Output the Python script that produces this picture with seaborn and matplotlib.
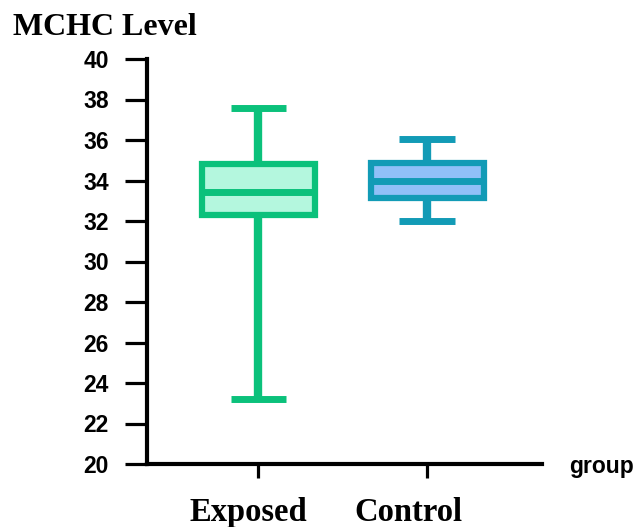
import matplotlib
matplotlib.use("Agg")
import matplotlib.pyplot as plt
import seaborn as sns
import pandas as pd

# Data (five-number summaries)
groups = ["Exposed", "Control"]
exposed_vals = [23.2, 32.3, 33.45, 34.8, 37.6]
control_vals = [32.0, 33.15, 34.0, 34.85, 36.05]
face_colors = ["#B4F7DE", "#90C0F8"]
edge_colors = ["#0BC17B", "#129BB6"]
y_ticks = [20, 22, 24, 26, 28, 30, 32, 34, 36, 38, 40]

df = pd.DataFrame({
    "group": [groups[0]] * len(exposed_vals) + [groups[1]] * len(control_vals),
    "value": exposed_vals + control_vals,
})

sns.set_theme(style="white")
plt.rcParams["font.family"] = ["Liberation Sans", "DejaVu Sans"]
plt.rcParams["text.color"] = "black"
plt.rcParams["xtick.color"] = "black"
plt.rcParams["ytick.color"] = "black"

fig = plt.figure(figsize=(6.41, 5.27), dpi=100)
ax = fig.add_axes([147 / 641, 1 - 464 / 527, (542 - 147) / 641, (464 - 59) / 527])

sns.boxplot(data=df, x="group", y="value", hue="group", order=groups,
            hue_order=groups, palette=face_colors, whis=(0, 100), saturation=1,
            width=0.67, linewidth=4.5, legend=False, ax=ax, showfliers=False)

for i, cont in enumerate(ax.containers):
    ec = edge_colors[i]
    for b in cont.boxes:
        b.set_edgecolor(ec)
        b.set_facecolor(face_colors[i])
        b.set_linewidth(4.5)
    for ln in list(cont.medians) + list(cont.whiskers) + list(cont.caps):
        ln.set_color(ec)
        ln.set_linewidth(5)
        ln.set_solid_capstyle("butt")
    for cap in cont.caps:
        xd = cap.get_xdata()
        c = (xd[0] + xd[1]) / 2
        cap.set_xdata([c - 0.165, c + 0.165])
    for w in cont.whiskers:
        w.set_linewidth(6)

ax.set_ylim(20, 40)
ax.set_xlim(-0.66, 1.68)
ax.set_yticks(y_ticks)
ax.set_yticklabels([str(t) for t in y_ticks], fontsize=16.5, fontweight="bold",
                   color="black")

# major ticks (marks) at the categories; labels on unmarked minor ticks,
# set slightly left as in the reference
px_per_unit = 169.0
ax.set_xticks([0, 1])
ax.set_xticklabels(["", ""])
ax.set_xticks([0 - 10 / px_per_unit, 1 - 19 / px_per_unit], minor=True)
ax.set_xticklabels(groups, minor=True, fontsize=23.5, fontweight="bold",
                   color="black", family=["Liberation Serif", "DejaVu Serif"])
ax.set_xlabel("")
ax.set_ylabel("")

for s in ["top", "right"]:
    ax.spines[s].set_visible(False)
for s in ["left", "bottom"]:
    ax.spines[s].set_linewidth(3)
    ax.spines[s].set_color("black")
ax.tick_params(axis="y", length=15.5, width=2.3, color="black", pad=12, left=True)
ax.tick_params(axis="x", which="major", length=10, width=2.3, color="black",
               bottom=True)
ax.tick_params(axis="x", which="minor", length=10, width=0, pad=14, bottom=True)

fig.text(13 / 641, 1 - 35 / 527, "MCHC Level", fontsize=23, fontweight="bold",
         family=["Liberation Serif", "DejaVu Serif"], ha="left", va="baseline",
         color="black")
fig.text(569 / 641, 1 - 466 / 527, "group", fontsize=16.5, fontweight="bold",
         ha="left", va="center", color="black")

fig.savefig("out.png", dpi=100)
